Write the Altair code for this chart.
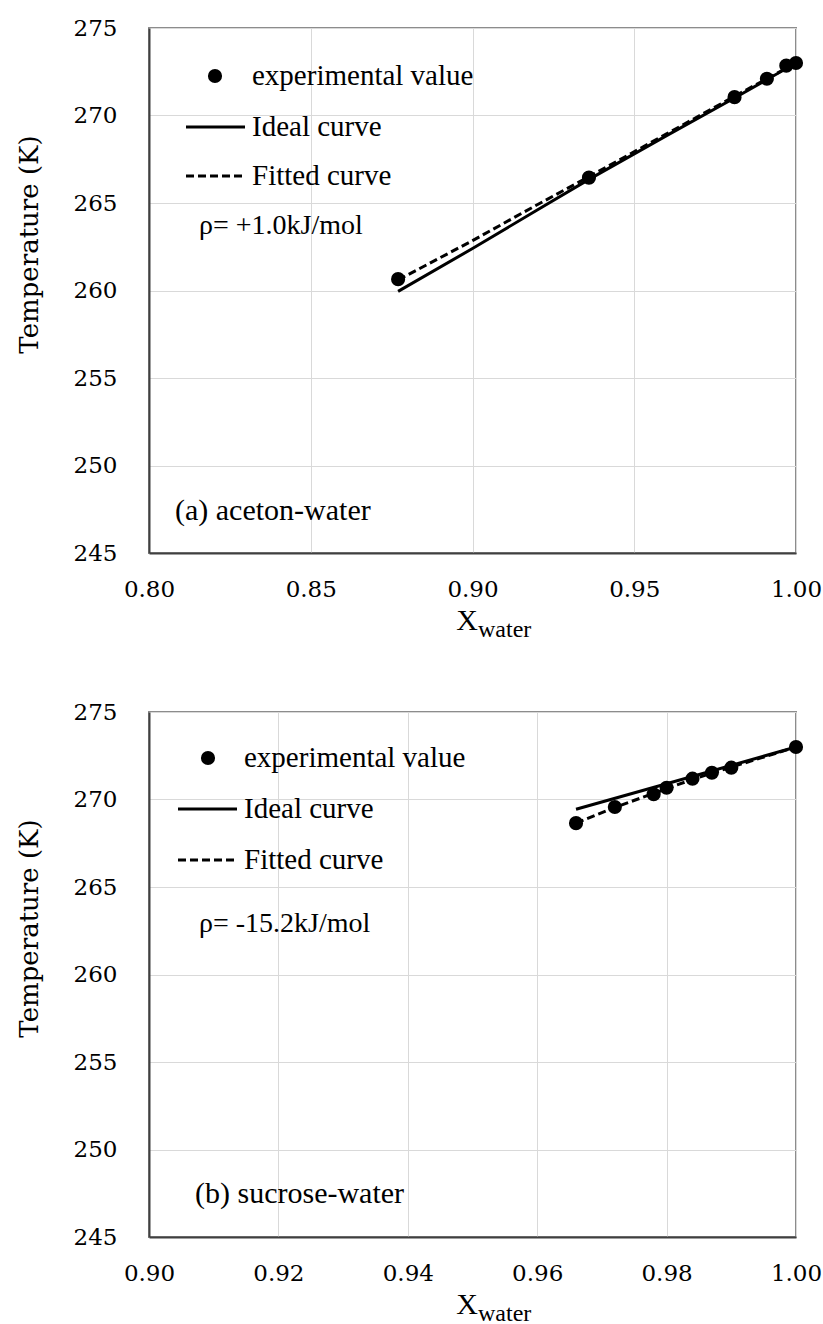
import altair as alt
import pandas as pd

# ---------------- data ----------------
# panel (a) aceton-water
a_exp_x = [0.877, 0.936, 0.981, 0.991, 0.997, 1.000]
a_exp_t = [260.65, 266.45, 271.05, 272.10, 272.85, 273.00]
a_ideal_x = [0.877, 0.900, 0.920, 0.936, 0.960, 0.981, 1.000]
a_ideal_t = [259.95, 262.40, 264.60, 266.35, 268.85, 271.00, 273.00]
a_fit_x = [0.877, 0.900, 0.920, 0.936, 0.960, 0.981, 1.000]
a_fit_t = [260.60, 262.85, 264.90, 266.50, 268.95, 271.10, 273.00]

# panel (b) sucrose-water
b_exp_x = [0.966, 0.972, 0.978, 0.980, 0.984, 0.987, 0.990, 1.000]
b_exp_t = [268.65, 269.57, 270.30, 270.67, 271.19, 271.53, 271.82, 273.00]
b_ideal_x = [0.966, 0.980, 1.000]
b_ideal_t = [269.44, 270.90, 273.00]
b_fit_x = [0.966, 0.972, 0.978, 0.984, 0.990, 1.000]
b_fit_t = [268.65, 269.55, 270.35, 271.15, 271.85, 273.00]

x_ticks_a = [0.80, 0.85, 0.90, 0.95, 1.00]
x_ticks_b = [0.90, 0.92, 0.94, 0.96, 0.98, 1.00]
y_ticks = [245, 250, 255, 260, 265, 270, 275]

legend_labels = ["experimental value", "Ideal curve", "Fitted curve"]
rho_a = "ρ= +1.0kJ/mol"
rho_b = "ρ= -15.2kJ/mol"
name_a = "(a) aceton-water"
name_b = "(b) sucrose-water"
y_title = "Temperature (K)"

W, H = 647, 525
LEG_FONT = "Liberation Serif"
TICK_FONT = "DejaVu Serif"
LW = 3


def panel(exp_x, exp_t, ideal_x, ideal_t, fit_x, fit_t, xticks, rho, name, lay):
    xs = alt.Scale(domain=[xticks[0], xticks[-1]], nice=False, zero=False)
    ys = alt.Scale(domain=[y_ticks[0], y_ticks[-1]], nice=False, zero=False)
    xax = alt.Axis(values=xticks, format=".2f", title=None, ticks=False, tickSize=0,
                   labelPadding=25, labelFont=TICK_FONT, labelFontSize=23,
                   labelColor="black", domainColor="#404040", domainWidth=2,
                   gridColor="#d9d9d9", gridWidth=1, labelFlush=False)
    yax = alt.Axis(values=y_ticks, title=y_title, ticks=False, tickSize=0,
                   labelPadding=32, labelFont=TICK_FONT, labelFontSize=23,
                   labelColor="black", domainColor="#404040", domainWidth=2,
                   gridColor="#d9d9d9", gridWidth=1,
                   titleFont=TICK_FONT, titleFontSize=26, titleFontWeight="normal",
                   titleColor="black", titleX=-107, titleY=216)
    d_exp = pd.DataFrame({"x": exp_x, "t": exp_t})
    d_ideal = pd.DataFrame({"x": ideal_x, "t": ideal_t})
    d_fit = pd.DataFrame({"x": fit_x, "t": fit_t})
    X = alt.X("x:Q", scale=xs, axis=xax)
    Y = alt.Y("t:Q", scale=ys, axis=yax)
    ideal = alt.Chart(d_ideal).mark_line(color="black", strokeWidth=LW).encode(x=X, y=Y)
    fit = alt.Chart(d_fit).mark_line(color="black", strokeWidth=LW,
                                      strokeDash=[8, 4]).encode(x=X, y=Y)
    pts = alt.Chart(d_exp).mark_circle(size=200, color="black", opacity=1).encode(x=X, y=Y)

    one = pd.DataFrame({"k": [0]})
    leg_pt = alt.Chart(one).mark_circle(size=200, color="black", opacity=1).encode(
        x=alt.value(lay["dot_x"]), y=alt.value(lay["y0"]))
    leg_solid = alt.Chart(one).mark_rule(color="black", strokeWidth=LW).encode(
        x=alt.value(lay["lx0"]), x2=alt.value(lay["lx1"]), y=alt.value(lay["y1"]))
    leg_dash = alt.Chart(one).mark_rule(color="black", strokeWidth=LW,
                                        strokeDash=[8, 4]).encode(
        x=alt.value(lay["lx0"]), x2=alt.value(lay["lx1"]), y=alt.value(lay["y2"]))
    txt = dict(align="left", baseline="middle", font=LEG_FONT, fontSize=29, color="black")
    t0 = alt.Chart(one).mark_text(**txt).encode(
        x=alt.value(lay["tx"]), y=alt.value(lay["y0"]), text=alt.value(legend_labels[0]))
    t1 = alt.Chart(one).mark_text(**txt).encode(
        x=alt.value(lay["tx"]), y=alt.value(lay["y1"]), text=alt.value(legend_labels[1]))
    t2 = alt.Chart(one).mark_text(**txt).encode(
        x=alt.value(lay["tx"]), y=alt.value(lay["y2"]), text=alt.value(legend_labels[2]))
    t3 = alt.Chart(one).mark_text(align="left", baseline="middle", font=LEG_FONT,
                                  fontSize=28, color="black").encode(
        x=alt.value(lay["rx"]), y=alt.value(lay["y3"]), text=alt.value(rho))
    tn = alt.Chart(one).mark_text(align="left", baseline="middle", font=LEG_FONT,
                                  fontSize=30, color="black").encode(
        x=alt.value(lay["nx"]), y=alt.value(lay["ny"]), text=alt.value(name))
    xt1 = alt.Chart(one).mark_text(align="right", baseline="alphabetic", font=LEG_FONT,
                                   fontSize=30, color="black").encode(
        x=alt.value(329), y=alt.value(H + 77), text=alt.value("X"))
    xt2 = alt.Chart(one).mark_text(align="left", baseline="alphabetic", font=LEG_FONT,
                                   fontSize=24, color="black").encode(
        x=alt.value(329), y=alt.value(H + 84), text=alt.value("water"))
    return alt.layer(ideal, fit, pts, leg_pt, leg_solid, leg_dash, t0, t1, t2, t3, tn,
                     xt1, xt2).properties(width=W, height=H)


lay_a = dict(dot_x=66, lx0=37, lx1=96, tx=103, y0=48, y1=99, y2=148, rx=50, y3=198,
             nx=26, ny=483)
lay_b = dict(dot_x=59, lx0=29, lx1=88, tx=95, y0=46, y1=97, y2=148, rx=50, y3=212,
             nx=46, ny=482)

top = panel(a_exp_x, a_exp_t, a_ideal_x, a_ideal_t, a_fit_x, a_fit_t, x_ticks_a,
            rho_a, name_a, lay_a)
bottom = panel(b_exp_x, b_exp_t, b_ideal_x, b_ideal_t, b_fit_x, b_fit_t, x_ticks_b,
               rho_b, name_b, lay_b)

chart = alt.vconcat(top, bottom, spacing=159, bounds="flush").properties(
    padding={"left": 15, "top": 16, "right": 0, "bottom": 0},
    background="white",
).configure_view(stroke="#8c8c8c", strokeWidth=2)

chart.save("out.html", embed_options={"renderer": "svg", "actions": False})
